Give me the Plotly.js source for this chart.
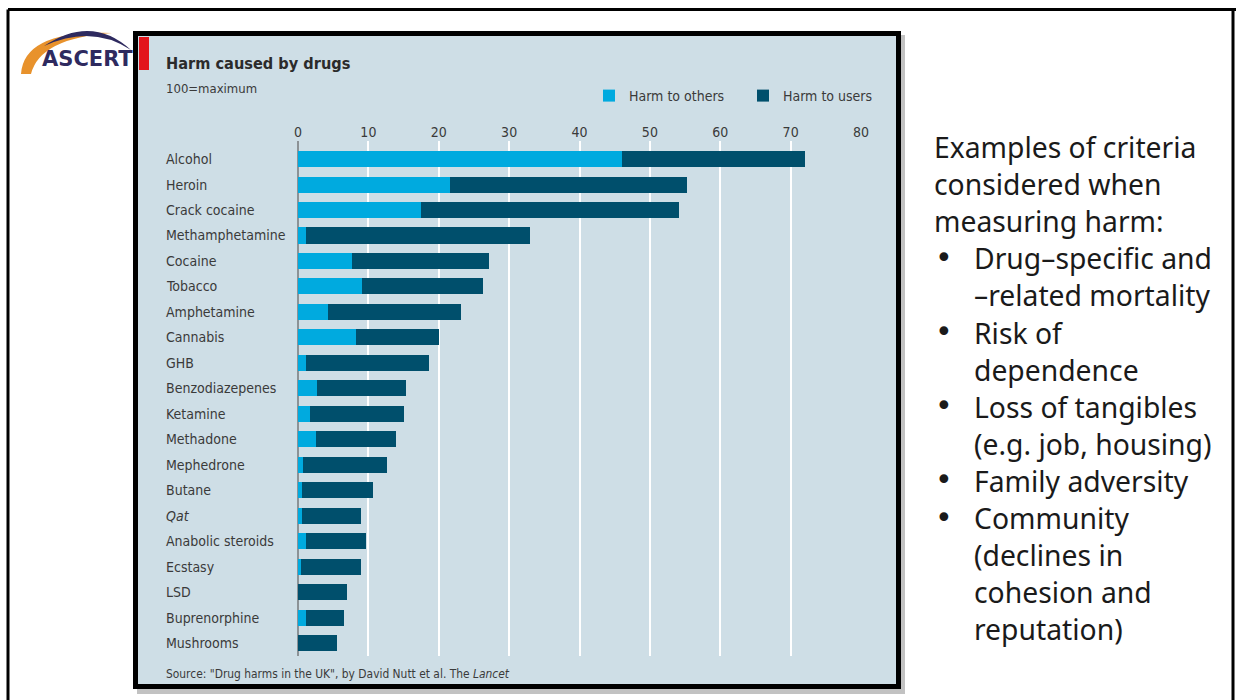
<!DOCTYPE html>
<html>
<head>
<meta charset="utf-8">
<script src="https://cdn.plot.ly/plotly-3.0.1.min.js"></script>
<style>html,body{margin:0;padding:0;background:#fff;}#chart{width:1236px;height:700px;}</style>
</head>
<body>
<div id="chart"></div>
<script>
// ---- data ----
const drugs = ['Alcohol','Heroin','Crack cocaine','Methamphetamine','Cocaine','Tobacco','Amphetamine','Cannabis','GHB','Benzodiazepenes','Ketamine','Methadone','Mephedrone','Butane','Qat','Anabolic steroids','Ecstasy','LSD','Buprenorphine','Mushrooms'];
const harmToOthers = [46, 21.6, 17.5, 1.1, 7.7, 9.1, 4.3, 8.2, 1.1, 2.7, 1.7, 2.5, 0.7, 0.6, 0.6, 1.2, 0.4, 0, 1.2, 0];
const harmToUsers  = [26, 33.7, 36.7, 31.8, 19.5, 17.2, 18.8, 11.8, 17.5, 12.7, 13.4, 11.4, 12.0, 10.1, 8.3, 8.4, 8.6, 6.9, 5.4, 5.5];
const xTicks = [0,10,20,30,40,50,60,70,80];
const seriesNames = ['Harm to others','Harm to users'];
const titleText = 'Harm caused by drugs';
const subtitleText = '100=maximum';
const sourceText = 'Source: "Drug harms in the UK", by David Nutt et al. The <i>Lancet</i>';
const sideLines = ['Examples of criteria','considered when','measuring harm:'];
const bulletItems = [
  ['Drug\u2013specific and','\u2013related mortality'],
  ['Risk of','dependence'],
  ['Loss of tangibles','(e.g. job, housing)'],
  ['Family adversity'],
  ['Community','(declines in','cohesion and','reputation)']
];

// ---- geometry helpers (pixel -> paper) ----
const W = 1236, H = 700;
const L = 298, R = 861, T = 141, B = 656;
const px = x => (x - L) / (R - L);
const py = y => (B - y) / (B - T);

const FONT = '"Liberation Sans Narrow", "DejaVu Sans Condensed", "Arial Narrow", sans-serif';
const TXT = '#3a3a3a';
const LIGHT = '#00aadf';
const DARK = '#004f6c';

const labelsY = drugs.map(d => d === 'Qat' ? '<i>Qat</i>' : d);

const traces = [
  {type:'bar', orientation:'h', name:seriesNames[0], y:drugs, x:harmToOthers,
   marker:{color:LIGHT}, width:0.63, hoverinfo:'skip'},
  {type:'bar', orientation:'h', name:seriesNames[1], y:drugs, x:harmToUsers,
   marker:{color:DARK}, width:0.63, hoverinfo:'skip'}
];

const shapes = [];
function rect(x0,y0,x1,y1,fill,layer,extra){
  shapes.push(Object.assign({type:'rect', xref:'paper', yref:'paper',
    x0:px(x0), x1:px(x1), y0:py(y1), y1:py(y0), fillcolor:fill, line:{width:0}, layer:layer||'below'}, extra||{}));
}
function line(x0,y0,x1,y1,color,w){
  shapes.push({type:'line', xref:'paper', yref:'paper', x0:px(x0), x1:px(x1), y0:py(y0), y1:py(y1),
    line:{color:color, width:w}, layer:'below'});
}
// outer slide frame
line(8,9.5,1236,9.5,'#000',3);
line(8,9.5,8,700,'#000',3);
line(1233,9.5,1233,700,'#000',3);
// panel shadow, border, background, red tab
rect(137,35,905,694,'rgba(120,120,120,0.45)');
rect(133,31,901,689,'#000000');
rect(138,36,896,684,'#cedee6');
rect(139,37,149,70,'#e3151c');

// ASCERT logo arcs
function P(x,y){ return px(x).toFixed(5)+','+py(y).toFixed(5); }
shapes.push({type:'path', xref:'paper', yref:'paper', layer:'above', line:{width:0}, fillcolor:'#e8922c',
  path:'M'+P(21,74)+' Q'+P(24,30)+' '+P(112,33)+' Q'+P(40,38)+' '+P(31,74)+' Z'});
shapes.push({type:'path', xref:'paper', yref:'paper', layer:'above', line:{width:0}, fillcolor:'#2e2a5f',
  path:'M'+P(44,46)+' Q'+P(92,14)+' '+P(131,50)+' Q'+P(92,24)+' '+P(44,46)+' Z'});

const annotations = [];
function ann(text,x,y,size,opts){
  annotations.push(Object.assign({text:text, xref:'paper', yref:'paper', x:px(x), y:py(y),
    xanchor:'left', yanchor:'middle', showarrow:false, font:{family:FONT, size:size, color:TXT}}, opts||{}));
}
// logo text
ann('<b>ASCERT</b>',40,59,22,{font:{family:'"DejaVu Sans", sans-serif', size:21, color:'#2e2a5f'}});
// title & subtitle & source
ann('<b>'+titleText+'</b>',164,63,16.2,{font:{family:FONT,size:16.2,color:'#2b2b2b'}});
ann(subtitleText,164,88,13);
ann(sourceText,164,674,11.9);
// category labels (left aligned, placed with the y axis scale)
drugs.forEach((d,i)=>{
  annotations.push({text:labelsY[i], xref:'paper', yref:'y', x:px(164), y:d, xanchor:'left', yanchor:'middle',
    showarrow:false, font:{family:FONT, size:14, color:TXT}});
});
// side text
const SF = '"Noto Sans", Lato, sans-serif';
const SS = 28.3;
let yy = 147;
const LH = 37.1;
sideLines.forEach(t=>{ ann(t,932,yy,SS,{font:{family:SF,size:SS,color:'#1a1a1a'}}); yy+=LH; });
bulletItems.forEach(item=>{
  ann('\u2022',933,yy-1,34,{font:{family:'"DejaVu Sans", sans-serif',size:30,color:'#1a1a1a'}});
  item.forEach(t=>{ ann(t,972,yy,SS,{font:{family:SF,size:SS,color:'#1a1a1a'}}); yy+=LH; });
});

const layout = {
  width:W, height:H,
  margin:{l:L, r:W-R, t:T, b:H-B, pad:0},
  paper_bgcolor:'#ffffff', plot_bgcolor:'rgba(0,0,0,0)',
  barmode:'stack', bargap:0.37,
  font:{family:FONT, color:TXT, size:14},
  showlegend:true,
  legend:{orientation:'h', x:px(589), xanchor:'left', y:py(96), yanchor:'middle',
    bgcolor:'rgba(0,0,0,0)', font:{family:FONT, size:14, color:TXT}, traceorder:'normal',
    entrywidth:109, entrywidthmode:'pixels', itemclick:false},
  xaxis:{side:'top', range:[0,80], tickvals:xTicks, ticktext:xTicks.map(String),
    showgrid:true, gridcolor:'#ffffff', gridwidth:2,
    zeroline:true, zerolinecolor:'#8c9296', zerolinewidth:1.5,
    showline:false, ticks:'', tickfont:{family:FONT, size:14, color:TXT}, fixedrange:true},
  yaxis:{type:'category', categoryorder:'array', categoryarray:drugs, range:[19.51,-0.71],
    showticklabels:false, showgrid:false, zeroline:false, showline:false, ticks:'', fixedrange:true},
  shapes:shapes, annotations:annotations
};

Plotly.newPlot('chart', traces, layout, {staticPlot:true, displayModeBar:false});
</script>
</body>
</html>
